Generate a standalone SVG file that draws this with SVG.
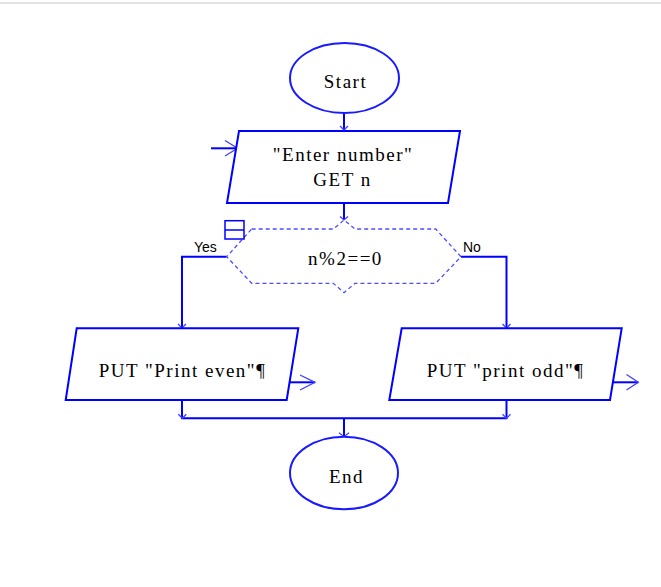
<svg xmlns="http://www.w3.org/2000/svg" width="661" height="587" viewBox="0 0 661 587">
<style>
.shape{fill:#fff;stroke:#0000ff;stroke-width:2}
.ell{fill:#fff;stroke:#1a1aff;stroke-width:2}
.dash{fill:#fff;stroke:#4d4dff;stroke-width:1.3;stroke-dasharray:4 3}
.ln{fill:none;stroke:#0000ff;stroke-width:2}
.ah{fill:none;stroke:#4040ff;stroke-width:1.3}
.t{font-family:"Liberation Serif","Times New Roman",serif;font-size:19px;fill:#000;text-anchor:middle;letter-spacing:1.5px}
.s{font-family:"Liberation Sans",Arial,sans-serif;font-size:14px;fill:#000}
</style>
<rect x="0" y="2" width="661" height="2" fill="#e3e3e3"/>
<g id="connectors">
  <line class="ln" x1="344" y1="113" x2="344" y2="130"/>
  <path class="ah" d="M340,126 L344,130 L348,126"/>
  <line class="ln" x1="211" y1="148.3" x2="237" y2="148.3"/>
  <path class="ah" d="M225,140.5 L237.5,148.3 L225,156"/>
  <line class="ln" x1="344" y1="203" x2="344" y2="220"/>
  <path class="ah" d="M340,216.5 L344,220 L348,216.5"/>
  <path class="ln" d="M226.7,256.7 L182,256.7 L182,328"/>
  <path class="ah" d="M178,324 L182,328 L186,324"/>
  <path class="ln" d="M461,256.7 L506.5,256.7 L506.5,328"/>
  <path class="ah" d="M502.5,324 L506.5,328 L510.5,324"/>
  <line class="ln" x1="287.5" y1="382.3" x2="315" y2="382.3"/>
  <path class="ah" d="M300,375 L315,382.3 L300,390"/>
  <line class="ln" x1="611" y1="382.3" x2="638.3" y2="382.3"/>
  <path class="ah" d="M626.5,374.5 L638.3,382.3 L626.5,390"/>
  <path class="ln" d="M182,400 L182,418.3 L506.5,418.3 L506.5,400"/>
  <path class="ah" d="M178.3,414.3 L182.3,418.3 L186.3,414.3"/>
  <path class="ah" d="M502.5,414.3 L506.5,418.3 L510.5,414.3"/>
  <line class="ln" x1="344" y1="418.3" x2="344" y2="436.7"/>
  <path class="ah" d="M339,432.7 L344,436.7 L349,432.7"/>
</g>
<g id="start">
  <ellipse class="ell" cx="344.5" cy="78" rx="54.5" ry="35"/>
  <text class="t" x="345.5" y="87.5">Start</text>
</g>
<g id="input">
  <polygon class="shape" points="239,131 460,131 448,203 227,203"/>
  <text class="t" x="343" y="160.7">"Enter number"</text>
  <text class="t" x="342.5" y="186">GET n</text>
</g>
<g id="decision">
  <path class="dash" d="M251.7,229 L333.3,229 L344,220 L355,229 L435.7,229 L461,256.7 L435.7,283.3 L355,283.3 L344,292.7 L333.3,283.3 L251.7,283.3 L226.7,256.7 Z"/>
  <rect x="225" y="220.7" width="19" height="18.3" fill="#fff" stroke="#0000ff" stroke-width="1.5"/>
  <line x1="225" y1="230" x2="244" y2="230" stroke="#0000ff" stroke-width="1.5"/>
  <text class="t" x="345.5" y="264.5">n%2==0</text>
  <text class="s" x="194" y="251.5">Yes</text>
  <text class="s" x="463" y="251.5">No</text>
</g>
<g id="even">
  <polygon class="shape" points="76.7,328.3 298.3,328.3 286.7,400 65.7,400"/>
  <text class="t" x="182.5" y="376.5">PUT "Print even"¶</text>
</g>
<g id="odd">
  <polygon class="shape" points="401.7,328.3 621.7,328.3 610,400 389.3,400"/>
  <text class="t" x="505.5" y="376.5">PUT "print odd"¶</text>
</g>
<g id="end">
  <ellipse class="ell" cx="344" cy="473" rx="54" ry="36.3"/>
  <text class="t" x="346.5" y="483">End</text>
</g>
</svg>
